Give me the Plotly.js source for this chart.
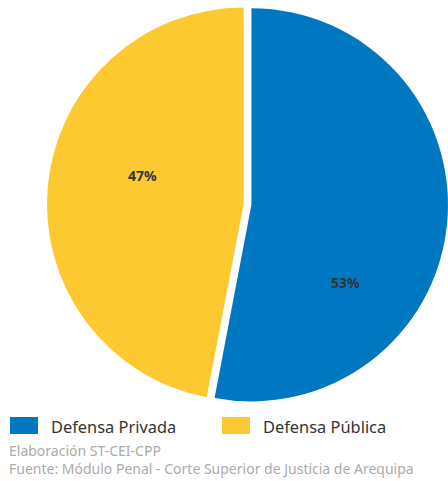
<!DOCTYPE html>
<html>
<head>
<meta charset="utf-8">
<script src="https://cdn.plot.ly/plotly-3.0.1.min.js"></script>
<style>html,body{margin:0;padding:0;background:#fff;}#chart{width:448px;height:481px;}</style>
</head>
<body>
<div id="chart"></div>
<script>
const categories = ["Defensa Privada", "Defensa Pública"];
const values = [53, 47];
const colors = ["#0078C1", "#FDC931"];
const sourceLines = ["Elaboración ST-CEI-CPP", "Fuente: Módulo Penal - Corte Superior de Justicia de Arequipa"];

const total = values.reduce((a, b) => a + b, 0);
const pctText = values.map(v => Math.round(v / total * 100) + "%");

const FONT = "Noto Sans, Open Sans, sans-serif";

const trace = {
  type: "pie",
  labels: categories,
  values: values,
  sort: false,
  direction: "clockwise",
  rotation: 0,
  pull: [0.02, 0.02],
  marker: { colors: colors, line: { color: "#fff", width: 0 } },
  textinfo: "none",
  hoverinfo: "label+percent",
  showlegend: false,
  domain: { x: [47 / 448, 1], y: [76 / 481, 477 / 481] }
};

const annotations = [
  { x: 142 / 448, y: 1 - 175 / 481, text: "<b>" + pctText[1] + "</b>" },
  { x: 345 / 448, y: 1 - 282 / 481, text: "<b>" + pctText[0] + "</b>" }
].map(a => Object.assign(a, {
  xref: "paper", yref: "paper", showarrow: false,
  xanchor: "center", yanchor: "middle",
  font: { family: FONT, size: 14, color: "#333333" }
}));

// legend (drawn manually to get wide rectangular swatches)
const legendX = [10, 222];
const shapes = [];
categories.forEach((c, i) => {
  shapes.push({
    type: "rect", xref: "paper", yref: "paper",
    x0: legendX[i] / 448, x1: (legendX[i] + 28) / 448,
    y0: 1 - 434 / 481, y1: 1 - 417 / 481,
    fillcolor: colors[i], line: { width: 0 }
  });
  annotations.push({
    xref: "paper", yref: "paper", showarrow: false,
    x: (legendX[i] + 39) / 448, y: 1 - 426 / 481,
    xanchor: "left", yanchor: "middle",
    text: c, font: { family: FONT, size: 16.4, color: "#333333" }
  });
});

sourceLines.forEach((s, i) => {
  annotations.push({
    xref: "paper", yref: "paper", showarrow: false,
    x: 7 / 448, y: 1 - (450 + i * 18) / 481,
    xanchor: "left", yanchor: "middle",
    text: s, font: { family: FONT, size: 14, color: "#ABABAB" }
  });
});

const layout = {
  width: 448, height: 481,
  margin: { l: 0, r: 0, t: 0, b: 0 },
  paper_bgcolor: "#fff",
  showlegend: false,
  annotations: annotations,
  shapes: shapes
};

Plotly.newPlot("chart", [trace], layout, { displayModeBar: false, staticPlot: true });
</script>
</body>
</html>
